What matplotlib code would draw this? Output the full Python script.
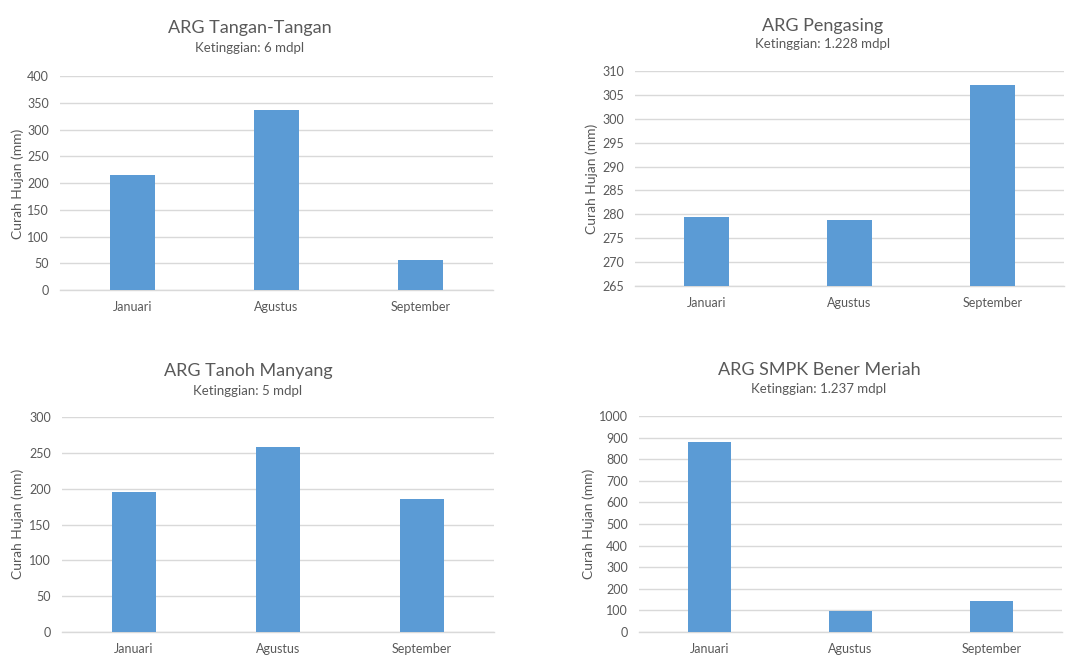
import matplotlib
matplotlib.use('Agg')
import matplotlib.pyplot as plt
import numpy as np

# rainfall per station (mm)
months = ['Januari', 'Agustus', 'September']
tangan_tangan = [215, 337, 56]
pengasing = [279.4, 278.9, 307.1]
tanoh_manyang = [196, 258, 185]
bener_meriah = [880, 96, 143]

stations = ['ARG Tangan-Tangan', 'ARG Pengasing', 'ARG Tanoh Manyang', 'ARG SMPK Bener Meriah']
elevations = ['Ketinggian: 6 mdpl', 'Ketinggian: 1.228 mdpl', 'Ketinggian: 5 mdpl', 'Ketinggian: 1.237 mdpl']
y_ranges = [(0, 400, 50), (265, 310, 5), (0, 300, 50), (0, 1000, 100)]

BLUE = '#5b9bd5'; GRID = '#d9d9d9'; TXT = '#595959'
plt.rcParams.update({'font.family': ['Lato', 'DejaVu Sans'], 'text.color': TXT})

W, H = 1083, 655
fig = plt.figure(figsize=(W / 100, H / 100), dpi=100)

# axes boxes in pixels: left, top, right, bottom
boxes = [(60, 76, 493, 290), (635, 71, 1064, 286), (62, 417, 494, 632), (639, 416, 1062, 632)]
title_pos = [(250, 33), (823, 31), (248, 376), (819, 375)]
sub_pos = [(250, 52), (823, 48), (248, 395), (819, 393)]
ylab_pos = [(18, 184), (592, 179), (18, 524), (589, 524)]

for i, vals in enumerate([tangan_tangan, pengasing, tanoh_manyang, bener_meriah]):
    l, t, r, b = boxes[i]
    ax = fig.add_axes([l / W, 1 - b / H, (r - l) / W, (b - t) / H])
    lo, hi, step = y_ranges[i]
    x = np.arange(len(months))
    ax.bar(x, np.array(vals) - lo, 0.31, bottom=lo, color=BLUE, zorder=3)
    ax.set_xlim(-0.5, 2.5); ax.set_ylim(lo, hi)
    ax.set_yticks(np.arange(lo, hi + step / 2, step))
    ax.set_xticks(x); ax.set_xticklabels(months)
    ax.grid(axis='y', color=GRID, lw=1.0, zorder=0)
    for s in ['top', 'right', 'left']:
        ax.spines[s].set_visible(False)
    ax.spines['bottom'].set_color(GRID); ax.spines['bottom'].set_linewidth(1.0)
    ax.tick_params(axis='both', length=0, colors=TXT, labelsize=9)
    ax.tick_params(axis='y', pad=8)
    ax.tick_params(axis='x', pad=8)
    fig.text(title_pos[i][0] / W, 1 - title_pos[i][1] / H, stations[i], ha='center', va='baseline',
             fontsize=13, color=TXT)
    fig.text(sub_pos[i][0] / W, 1 - sub_pos[i][1] / H, elevations[i], ha='center', va='baseline',
             fontsize=9.5, color=TXT)
    fig.text(ylab_pos[i][0] / W, 1 - ylab_pos[i][1] / H, 'Curah Hujan (mm)', ha='center', va='center',
             rotation=90, fontsize=10, color=TXT)

fig.savefig('out.png', dpi=100, facecolor='white')
